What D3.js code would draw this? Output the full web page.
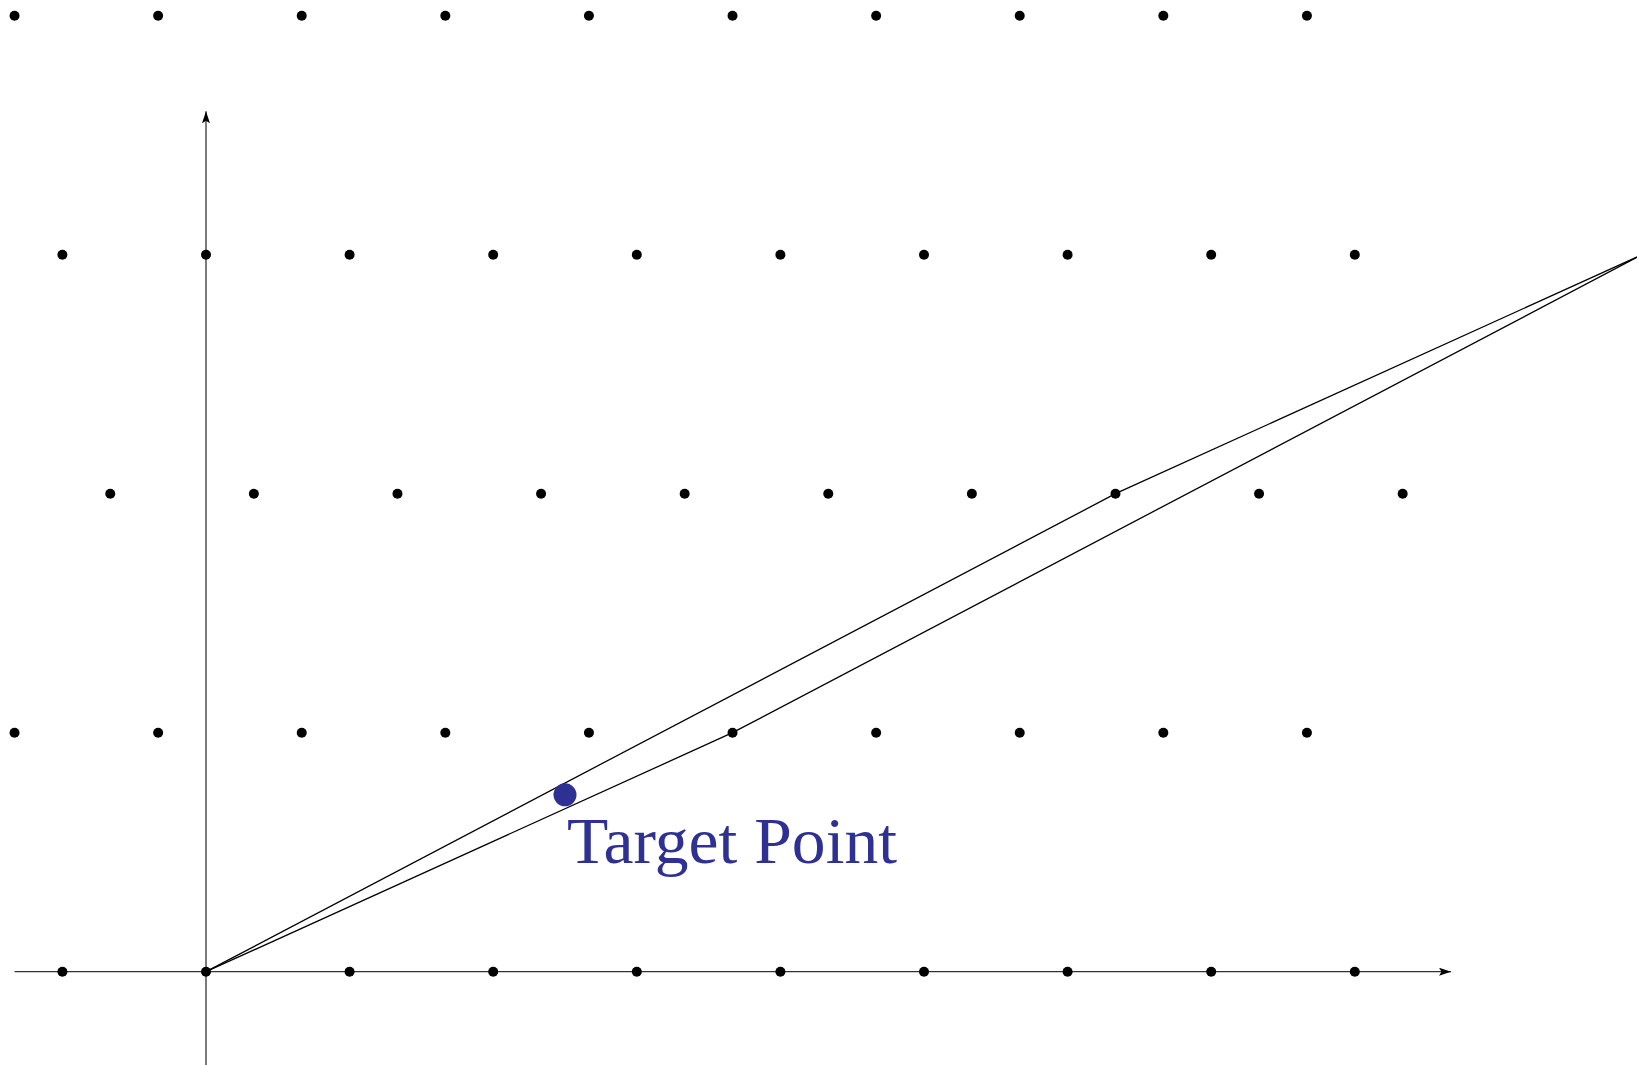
<!DOCTYPE html>
<html>
<head>
<meta charset="utf-8">
<script src="https://cdn.jsdelivr.net/npm/d3@7"></script>
<style>
  html, body { margin: 0; padding: 0; background: #fff; overflow: hidden; }
  svg { display: block; }
</style>
</head>
<body>
<script>
// Lattice generated by b1 = (1, 0) and b2 = (-1/3, 1); each row lists its x positions.
const rowLevels = [0, 1, 2, 3, 4];
const row0 = [-1, 0, 1, 2, 3, 4, 5, 6, 7, 8];
const row1 = [-4/3, -1/3, 2/3, 5/3, 8/3, 11/3, 14/3, 17/3, 20/3, 23/3];
const row2 = [-2/3, 1/3, 4/3, 7/3, 10/3, 13/3, 16/3, 19/3, 22/3, 25/3];
const row3 = [-1, 0, 1, 2, 3, 4, 5, 6, 7, 8];
const row4 = [-4/3, -1/3, 2/3, 5/3, 8/3, 11/3, 14/3, 17/3, 20/3, 23/3];
const rows = [row0, row1, row2, row3, row4];

// Two lattice paths from the origin to (10, 3)
const lowerPath = [[0, 0], [11/3, 1], [10, 3]];
const upperPath = [[0, 0], [19/3, 2], [10, 3]];

// Target point and its label
const target = [2.5, 0.74];
const targetLabel = "Target Point";

// Axis extents
const xAxisRange = [-4/3, 8.67];
const yAxisRange = [-0.42, 3.6];

const W = 1637, H = 1065;
const svg = d3.select("body").append("svg").attr("width", W).attr("height", H);

const x = d3.scaleLinear().domain([0, 1]).range([206, 349.6]);
const y = d3.scaleLinear().domain([0, 1]).range([971.7, 732.7]);

const defs = svg.append("defs");
defs.append("marker").attr("id", "arrowX")
  .attr("viewBox", "0 0 12 8").attr("refX", 12).attr("refY", 4)
  .attr("markerWidth", 12).attr("markerHeight", 8)
  .attr("markerUnits", "userSpaceOnUse").attr("orient", "auto")
  .append("path").attr("d", "M0,0 L12,4 L0,8 L2.5,4 Z").attr("fill", "#000");

// Axes
svg.append("line")
  .attr("x1", x(xAxisRange[0])).attr("y1", y(0))
  .attr("x2", x(xAxisRange[1])).attr("y2", y(0))
  .attr("stroke", "#333").attr("stroke-width", 1.3)
  .attr("marker-end", "url(#arrowX)");
svg.append("line")
  .attr("x1", x(0)).attr("y1", y(yAxisRange[0]))
  .attr("x2", x(0)).attr("y2", y(yAxisRange[1]))
  .attr("stroke", "#333").attr("stroke-width", 1.3)
  .attr("marker-end", "url(#arrowX)");

// Paths
const line = d3.line().x(d => x(d[0])).y(d => y(d[1]));
svg.selectAll("path.route").data([lowerPath, upperPath]).enter()
  .append("path").attr("class", "route")
  .attr("d", line)
  .attr("fill", "none").attr("stroke", "#000").attr("stroke-width", 1.3);

// Lattice points
const points = [];
rows.forEach((xs, i) => xs.forEach(v => points.push([v, rowLevels[i]])));
svg.selectAll("circle.pt").data(points).enter()
  .append("circle").attr("class", "pt")
  .attr("cx", d => x(d[0])).attr("cy", d => y(d[1]))
  .attr("r", 5).attr("fill", "#000");

// Target
svg.append("circle")
  .attr("cx", x(target[0])).attr("cy", y(target[1]))
  .attr("r", 11.5).attr("fill", "#2e3192");
svg.append("text")
  .attr("x", x(target[0]) + 2).attr("y", y(target[1]) + 68)
  .attr("font-family", "'Liberation Serif', 'DejaVu Serif', serif")
  .attr("font-size", 66)
  .attr("textLength", 330).attr("lengthAdjust", "spacingAndGlyphs")
  .attr("fill", "#2e3192")
  .text(targetLabel);
</script>
</body>
</html>
